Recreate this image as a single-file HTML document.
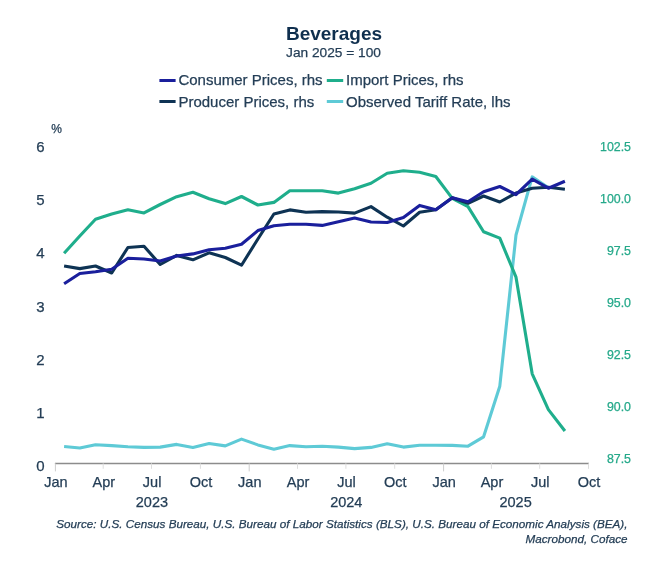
<!DOCTYPE html>
<html><head><meta charset="utf-8"><title>Beverages</title>
<style>
html,body{margin:0;padding:0;background:#fff;}
svg{display:block;filter:blur(0.5px);font-family:"Liberation Sans",Arial,sans-serif;}
text{fill:#243e56;stroke:#243e56;stroke-width:0.25px;}
.ln{fill:none;stroke-width:3.1;stroke-linejoin:round;stroke-linecap:butt;}
</style></head><body>
<svg width="669" height="565" viewBox="0 0 669 565">
<rect width="669" height="565" fill="#fff"/>
<text x="334" y="39.5" text-anchor="middle" font-size="19" font-weight="bold" style="fill:#0f2f4e;stroke:none">Beverages</text>
<text x="333.5" y="57.3" text-anchor="middle" font-size="13.7">Jan 2025 = 100</text>

<line x1="159.4" x2="175.6" y1="80.5" y2="80.5" stroke="#1a1f9c" stroke-width="3"/>
<text x="178.4" y="85.4" font-size="15">Consumer Prices, rhs</text>
<line x1="159.4" x2="175.6" y1="101.5" y2="101.5" stroke="#0e3354" stroke-width="3"/>
<text x="178.4" y="106.9" font-size="15">Producer Prices, rhs</text>
<line x1="326.8" x2="343.2" y1="80.5" y2="80.5" stroke="#1fae8c" stroke-width="3"/>
<text x="346" y="85.4" font-size="15">Import Prices, rhs</text>
<line x1="326.8" x2="343.2" y1="101.5" y2="101.5" stroke="#5ecad6" stroke-width="3"/>
<text x="346" y="106.9" font-size="15">Observed Tariff Rate, lhs</text>
<text x="51.3" y="132.6" font-size="12">%</text>
<text x="44.6" y="471.1" text-anchor="end" font-size="15">0</text>
<text x="44.6" y="417.9" text-anchor="end" font-size="15">1</text>
<text x="44.6" y="364.7" text-anchor="end" font-size="15">2</text>
<text x="44.6" y="311.5" text-anchor="end" font-size="15">3</text>
<text x="44.6" y="258.4" text-anchor="end" font-size="15">4</text>
<text x="44.6" y="205.2" text-anchor="end" font-size="15">5</text>
<text x="44.6" y="152.0" text-anchor="end" font-size="15">6</text>
<text x="631" y="151.0" text-anchor="end" font-size="12.4" style="fill:#25a98a;stroke:#25a98a">102.5</text>
<text x="631" y="203.1" text-anchor="end" font-size="12.4" style="fill:#25a98a;stroke:#25a98a">100.0</text>
<text x="631" y="255.1" text-anchor="end" font-size="12.4" style="fill:#25a98a;stroke:#25a98a">97.5</text>
<text x="631" y="307.2" text-anchor="end" font-size="12.4" style="fill:#25a98a;stroke:#25a98a">95.0</text>
<text x="631" y="359.3" text-anchor="end" font-size="12.4" style="fill:#25a98a;stroke:#25a98a">92.5</text>
<text x="631" y="411.4" text-anchor="end" font-size="12.4" style="fill:#25a98a;stroke:#25a98a">90.0</text>
<text x="631" y="463.4" text-anchor="end" font-size="12.4" style="fill:#25a98a;stroke:#25a98a">87.5</text>
<line x1="54.9" x2="589" y1="463.6" y2="463.6" stroke="#8c8c8c" stroke-width="1.5"/>
<line x1="55.4" x2="55.4" y1="463.4" y2="471.4" stroke="#cdcdcd" stroke-width="1"/>
<text x="56.0" y="487.4" text-anchor="middle" font-size="14.5">Jan</text>
<line x1="103.2" x2="103.2" y1="463.4" y2="468.8" stroke="#dedede" stroke-width="1"/>
<text x="103.8" y="487.4" text-anchor="middle" font-size="14.5">Apr</text>
<line x1="151.5" x2="151.5" y1="463.4" y2="468.8" stroke="#dedede" stroke-width="1"/>
<text x="152.1" y="487.4" text-anchor="middle" font-size="14.5">Jul</text>
<line x1="200.4" x2="200.4" y1="463.4" y2="468.8" stroke="#dedede" stroke-width="1"/>
<text x="201.0" y="487.4" text-anchor="middle" font-size="14.5">Oct</text>
<text x="151.9" y="506.7" text-anchor="middle" font-size="14.5">2023</text>
<line x1="249.2" x2="249.2" y1="463.4" y2="471.4" stroke="#cdcdcd" stroke-width="1"/>
<text x="249.8" y="487.4" text-anchor="middle" font-size="14.5">Jan</text>
<line x1="297.5" x2="297.5" y1="463.4" y2="468.8" stroke="#dedede" stroke-width="1"/>
<text x="298.1" y="487.4" text-anchor="middle" font-size="14.5">Apr</text>
<line x1="345.9" x2="345.9" y1="463.4" y2="468.8" stroke="#dedede" stroke-width="1"/>
<text x="346.5" y="487.4" text-anchor="middle" font-size="14.5">Jul</text>
<line x1="394.7" x2="394.7" y1="463.4" y2="468.8" stroke="#dedede" stroke-width="1"/>
<text x="395.3" y="487.4" text-anchor="middle" font-size="14.5">Oct</text>
<text x="346.3" y="506.7" text-anchor="middle" font-size="14.5">2024</text>
<line x1="443.6" x2="443.6" y1="463.4" y2="471.4" stroke="#cdcdcd" stroke-width="1"/>
<text x="444.2" y="487.4" text-anchor="middle" font-size="14.5">Jan</text>
<line x1="491.4" x2="491.4" y1="463.4" y2="468.8" stroke="#dedede" stroke-width="1"/>
<text x="492.0" y="487.4" text-anchor="middle" font-size="14.5">Apr</text>
<line x1="539.7" x2="539.7" y1="463.4" y2="468.8" stroke="#dedede" stroke-width="1"/>
<text x="540.3" y="487.4" text-anchor="middle" font-size="14.5">Jul</text>
<line x1="588.5" x2="588.5" y1="463.4" y2="468.8" stroke="#dedede" stroke-width="1"/>
<text x="589.1" y="487.4" text-anchor="middle" font-size="14.5">Oct</text>
<text x="515.6" y="506.7" text-anchor="middle" font-size="14.5">2025</text>
<path class="ln" d="M64.1,446.5 L79.8,448.0 L95.5,444.7 L111.7,445.6 L127.9,446.8 L144.0,447.4 L160.2,447.1 L176.7,444.4 L192.9,447.4 L209.1,443.5 L225.3,445.9 L241.5,439.1 L257.9,444.9 L273.9,449.2 L289.8,445.6 L306.0,446.8 L322.2,446.2 L338.4,447.1 L354.6,448.6 L371.0,447.4 L387.2,443.8 L403.4,447.1 L419.6,445.3 L435.8,445.3 L452.3,445.4 L468.0,446.2 L483.6,436.8 L499.8,386.2 L516.0,235.0 L532.2,176.9 L548.4,187.8" stroke="#5ecad6"/>
<path class="ln" d="M64.1,253.3 L79.8,236.0 L95.5,219.3 L111.7,214.0 L127.9,209.7 L144.0,212.9 L160.2,204.5 L176.7,196.7 L192.9,192.3 L209.1,198.7 L225.3,203.6 L241.5,196.5 L257.9,205.0 L273.9,202.4 L289.8,190.8 L306.0,190.8 L322.2,190.8 L338.4,193.1 L354.6,188.7 L371.0,183.2 L387.2,173.2 L403.4,170.8 L419.6,172.3 L435.8,176.5 L452.3,198.4 L468.0,206.6 L483.6,231.8 L499.8,238.1 L516.0,277.2 L532.2,373.8 L548.4,409.6 L564.9,431.0" stroke="#1fae8c"/>
<path class="ln" d="M64.1,266.0 L79.8,268.6 L95.5,266.0 L111.7,273.0 L127.9,247.5 L144.0,246.3 L160.2,264.5 L176.7,255.4 L192.9,259.8 L209.1,252.8 L225.3,257.5 L241.5,265.2 L257.9,239.0 L273.9,214.0 L289.8,209.9 L306.0,212.2 L322.2,211.6 L338.4,212.0 L354.6,213.1 L371.0,206.6 L387.2,217.2 L403.4,226.0 L419.6,212.2 L435.8,209.7 L452.3,197.8 L468.0,203.4 L483.6,196.0 L499.8,202.0 L516.0,193.1 L532.2,188.2 L548.4,187.2 L564.9,189.3" stroke="#0e3354"/>
<path class="ln" d="M64.1,283.7 L79.8,273.5 L95.5,271.8 L111.7,269.2 L127.9,258.2 L144.0,259.0 L160.2,261.0 L176.7,256.0 L192.9,253.9 L209.1,249.7 L225.3,248.2 L241.5,244.3 L257.9,230.6 L273.9,225.8 L289.8,224.3 L306.0,224.3 L322.2,225.4 L338.4,221.8 L354.6,218.0 L371.0,222.0 L387.2,222.5 L403.4,217.5 L419.6,205.4 L435.8,209.7 L452.3,197.8 L468.0,201.8 L483.6,191.8 L499.8,186.5 L516.0,194.6 L532.2,179.2 L548.4,188.2 L564.9,181.2" stroke="#1a1f9c"/>
<text x="627.5" y="528.3" text-anchor="end" font-size="11.7" font-style="italic">Source: U.S. Census Bureau, U.S. Bureau of Labor Statistics (BLS), U.S. Bureau of Economic Analysis (BEA),</text>
<text x="627.5" y="542.8" text-anchor="end" font-size="11.7" font-style="italic">Macrobond, Coface</text>
</svg></body></html>
